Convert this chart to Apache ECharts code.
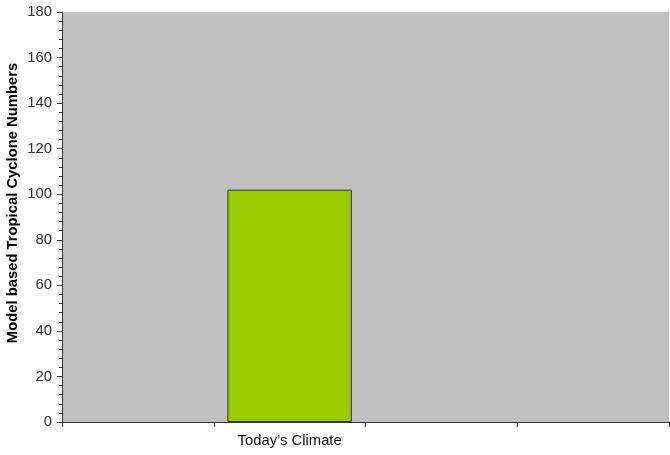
<!DOCTYPE html>
<html>
<head>
<meta charset="utf-8">
<script src="https://cdn.jsdelivr.net/npm/echarts@6/dist/echarts.min.js"></script>
<style>html,body{margin:0;padding:0;background:#fff}#c{width:670px;height:455px}</style>
</head>
<body>
<div id="c"></div>
<script>
const categories = ["", "Today\u2019s Climate", "", ""];
const values = ['-', 102, '-', '-'];
const yTicks = [0, 20, 40, 60, 80, 100, 120, 140, 160, 180];
const yTitle = "Model based Tropical Cyclone Numbers";

const chart = echarts.init(document.getElementById('c'), null, {renderer: 'canvas'});
chart.setOption({
  backgroundColor: '#ffffff',
  animation: false,
  textStyle: {fontFamily: 'Liberation Sans, Arial, sans-serif'},
  grid: {left: 62, right: 1, top: 12, bottom: 33, show: true, backgroundColor: '#c0c0c0', borderWidth: 0},
  graphic: [{
    type: 'text',
    x: 13,
    y: 203,
    rotation: Math.PI / 2,
    style: {
      text: yTitle,
      fill: '#000000',
      font: 'bold 14.8px "Liberation Sans", Arial, sans-serif',
      align: 'center',
      verticalAlign: 'middle'
    }
  }],
  xAxis: {
    type: 'category',
    data: categories,
    boundaryGap: true,
    axisLine: {show: true, lineStyle: {color: '#333333', width: 1}},
    axisTick: {show: true, length: 5, lineStyle: {color: '#333333'}},
    axisLabel: {color: '#111111', fontSize: 14.8, margin: 11, interval: 0},
    splitLine: {show: false}
  },
  yAxis: {
    type: 'value',
    min: yTicks[0],
    max: yTicks[yTicks.length - 1],
    interval: 20,
    axisLine: {show: true, lineStyle: {color: '#333333', width: 1}},
    axisTick: {show: true, length: 5, lineStyle: {color: '#333333'}},
    minorTick: {show: true, splitNumber: 5, length: 3, lineStyle: {color: '#333333'}},
    axisLabel: {color: '#333333', fontSize: 14.8, margin: 10},
    splitLine: {show: false}
  },
  series: [{
    type: 'bar',
    data: values,
    barWidth: '82%',
    itemStyle: {color: '#99cc00', borderColor: '#333333', borderWidth: 1}
  }]
});
</script>
</body>
</html>
